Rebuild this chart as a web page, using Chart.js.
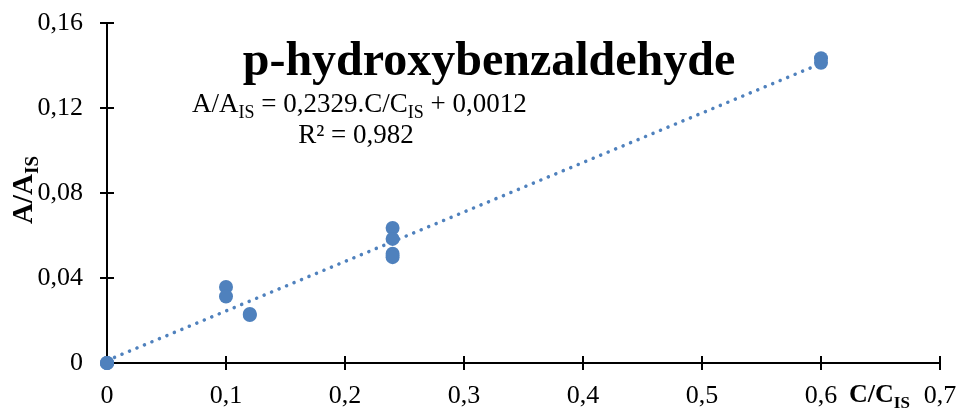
<!DOCTYPE html>
<html>
<head>
<meta charset="utf-8">
<script src="https://cdn.jsdelivr.net/npm/chart.js@4.4.1/dist/chart.umd.min.js"></script>
<style>
  html, body { margin: 0; padding: 0; background: #fff; }
  #wrap { width: 958px; height: 412px; position: relative; }
</style>
</head>
<body>
<div id="wrap"><canvas id="c"></canvas></div>
<script>
// Calibration data: concentration ratio C/C_IS vs. peak area ratio A/A_IS
const concRatio = [0, 0, 0, 0.1, 0.1, 0.12, 0.12, 0.24, 0.24, 0.24, 0.24, 0.6, 0.6];
const areaRatio = [0, 0, 0, 0.0358, 0.0313, 0.0231, 0.0226, 0.0635, 0.0584, 0.0514, 0.0498, 0.1434, 0.1413];

// Linear fit reported on the chart
const fitSlope = 0.2329;
const fitIntercept = 0.0012;
const fitRange = [0, 0.6];

// Axis tick labels (decimal comma)
const xTickLabels = ['0', '0,1', '0,2', '0,3', '0,4', '0,5', '0,6', '0,7'];
const yTickLabels = ['0', '0,04', '0,08', '0,12', '0,16'];

const chartTitle = 'p-hydroxybenzaldehyde';
const serif = '"Liberation Serif", "Times New Roman", serif';
const blue = '#4F81BD';
const axisWidth = 2;

const points = concRatio.map((x, i) => ({ x: x, y: areaRatio[i] }));
const fitLine = fitRange.map(x => ({ x: x, y: fitSlope * x + fitIntercept }));

// Draw a run of text pieces, some of them as subscripts
function drawRuns(ctx, runs, x, y, size, weight, align) {
  const subSize = Math.round(size * 0.65);
  const widthOf = r => {
    ctx.font = weight + ' ' + (r.sub ? subSize : size) + 'px ' + serif;
    return ctx.measureText(r.t).width;
  };
  const total = runs.reduce((s, r) => s + widthOf(r), 0);
  let cx = align === 'center' ? x - total / 2 : x;
  ctx.textAlign = 'left';
  ctx.textBaseline = 'alphabetic';
  runs.forEach(r => {
    const w = widthOf(r);
    ctx.fillText(r.t, cx, r.sub ? y + size * 0.22 : y);
    cx += w;
  });
}

// Tick marks that cross the axis lines (inner half)
const innerTicks = {
  id: 'innerTicks',
  beforeDatasetsDraw(chart) {
    const { ctx, chartArea, scales } = chart;
    ctx.save();
    ctx.strokeStyle = '#000';
    ctx.lineWidth = axisWidth;
    scales.x.ticks.forEach(t => {
      const px = scales.x.getPixelForValue(t.value);
      ctx.beginPath();
      ctx.moveTo(px, chartArea.bottom);
      ctx.lineTo(px, chartArea.bottom - 7);
      ctx.stroke();
    });
    scales.y.ticks.forEach(t => {
      const py = scales.y.getPixelForValue(t.value);
      ctx.beginPath();
      ctx.moveTo(chartArea.left, py);
      ctx.lineTo(chartArea.left + 7, py);
      ctx.stroke();
    });
    ctx.restore();
  }
};

// Title, regression equation and axis titles
const annotations = {
  id: 'annotations',
  afterDraw(chart) {
    const { ctx, chartArea, scales } = chart;
    ctx.save();
    ctx.fillStyle = '#000';

    ctx.font = 'bold 48px ' + serif;
    ctx.textAlign = 'center';
    ctx.textBaseline = 'alphabetic';
    ctx.fillText(chartTitle, chartArea.left + 382, chartArea.top + 52);

    drawRuns(ctx, [
      { t: 'A/A' }, { t: 'IS', sub: true },
      { t: ' = 0,2329.C/C' }, { t: 'IS', sub: true },
      { t: ' + 0,0012' }
    ], chartArea.left + 85, chartArea.top + 89, 27, 'normal', 'left');
    drawRuns(ctx, [{ t: 'R² = 0,982' }], chartArea.left + 249, chartArea.top + 120, 27, 'normal', 'center');

    // y axis title, rotated
    ctx.save();
    ctx.translate(32, (chartArea.top + chartArea.bottom) / 2 - 3);
    ctx.rotate(-Math.PI / 2);
    drawRuns(ctx, [{ t: 'A/A' }, { t: 'IS', sub: true }], 0, 0, 29, 'bold', 'center');
    ctx.restore();

    // x axis title, between the last two tick labels
    const xMid = scales.x.getPixelForValue(0.65);
    drawRuns(ctx, [{ t: 'C/C' }, { t: 'IS', sub: true }], xMid - 1, chartArea.bottom + 39, 26, 'bold', 'center');
    ctx.restore();
  }
};

new Chart(document.getElementById('c'), {
  type: 'scatter',
  data: {
    datasets: [
      {
        type: 'line',
        data: fitLine,
        borderColor: blue,
        borderWidth: 3.5,
        borderDash: [0.1, 8],
        borderCapStyle: 'round',
        pointRadius: 0,
        fill: false,
        clip: false,
        order: 2
      },
      {
        data: points,
        backgroundColor: blue,
        borderColor: blue,
        pointRadius: 7,
        pointBorderWidth: 0,
        clip: false,
        order: 1
      }
    ]
  },
  options: {
    responsive: true,
    maintainAspectRatio: false,
    animation: false,
    devicePixelRatio: 1,
    layout: { padding: { top: 23, right: 18, left: 0, bottom: 0 } },
    plugins: { legend: { display: false }, tooltip: { enabled: false }, title: { display: false } },
    scales: {
      x: {
        type: 'linear',
        min: 0, max: 0.7,
        afterFit(s) { s.height = 49; s.paddingLeft = 0; s.paddingRight = 0; },
        ticks: {
          stepSize: 0.1,
          maxRotation: 0,
          padding: 11,
          color: '#000',
          font: { family: serif, size: 26 },
          callback: (v, i) => xTickLabels[i]
        },
        grid: { drawOnChartArea: false, drawTicks: true, tickLength: 7, color: '#000', lineWidth: axisWidth },
        border: { display: true, color: '#000', width: axisWidth }
      },
      y: {
        type: 'linear',
        min: 0, max: 0.16,
        afterFit(s) { s.width = 107; s.paddingTop = 0; s.paddingBottom = 0; },
        ticks: {
          stepSize: 0.04,
          padding: 17,
          color: '#000',
          font: { family: serif, size: 26 },
          callback: (v, i) => yTickLabels[i]
        },
        grid: { drawOnChartArea: false, drawTicks: true, tickLength: 7, color: '#000', lineWidth: axisWidth },
        border: { display: true, color: '#000', width: axisWidth }
      }
    }
  },
  plugins: [innerTicks, annotations]
});
</script>
</body>
</html>
